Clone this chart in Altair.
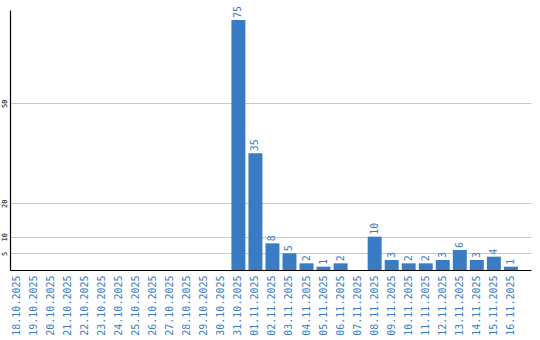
import altair as alt
import pandas as pd

dates = ["18.10.2025", "19.10.2025", "20.10.2025", "21.10.2025", "22.10.2025",
         "23.10.2025", "24.10.2025", "25.10.2025", "26.10.2025", "27.10.2025",
         "28.10.2025", "29.10.2025", "30.10.2025", "31.10.2025", "01.11.2025",
         "02.11.2025", "03.11.2025", "04.11.2025", "05.11.2025", "06.11.2025",
         "07.11.2025", "08.11.2025", "09.11.2025", "10.11.2025", "11.11.2025",
         "12.11.2025", "13.11.2025", "14.11.2025", "15.11.2025", "16.11.2025"]
values = [0, 0, 0, 0, 0, 0, 0, 0, 0, 0, 0, 0, 0, 75, 35,
          8, 5, 2, 1, 2, 0, 10, 3, 2, 2, 3, 6, 3, 4, 1]
y_ticks = [5, 10, 20, 50]

df = pd.DataFrame({"date": dates, "v": values})

BLUE = "#3a7cc3"
FONT = "DejaVu Sans Mono"

x = alt.X("date:N", sort=dates, title=None,
          scale=alt.Scale(paddingInner=0.18, paddingOuter=0.385, align=0),
          axis=alt.Axis(labelAngle=270, labelAlign="right", labelBaseline="middle",
                        labelColor=BLUE, labelFont=FONT, labelFontSize=10,
                        labelPadding=5, ticks=False, domainColor="black",
                        domainWidth=1.2, grid=False, labelOverlap=False))
y = alt.Y("v:Q", title=None,
          scale=alt.Scale(domain=[0, 78], nice=False),
          axis=alt.Axis(values=y_ticks, labelAngle=270, labelAlign="center",
                        labelBaseline="bottom", labelFont=FONT, labelFontSize=7,
                        labelColor="black", labelPadding=3, ticks=False,
                        domainColor="black", domainWidth=1.2,
                        gridColor="#c8c8c8", gridWidth=1))

bars = alt.Chart(df).mark_bar(color=BLUE).encode(x=x, y=y)
labels = alt.Chart(df).transform_filter("datum.v > 0").mark_text(
    angle=270, align="left", baseline="middle", dx=2,
    font=FONT, fontSize=10, color=BLUE
).encode(x=alt.X("date:N", sort=dates), y="v:Q", text="v:Q")

chart = (bars + labels).properties(
    width=521, height=260,
    background="white",
    autosize=alt.AutoSizeParams(type="none"),
    padding={"left": 10, "top": 10, "right": 9, "bottom": 70},
).configure_view(stroke=None)

chart.save("out.html", embed_options={"renderer": "svg", "actions": False})
